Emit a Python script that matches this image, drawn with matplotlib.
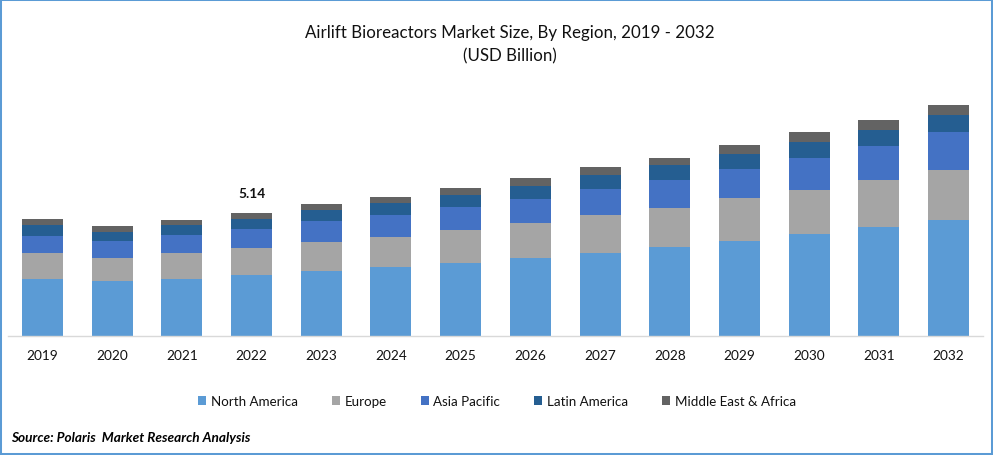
import matplotlib
matplotlib.use('Agg')
import matplotlib.pyplot as plt
from matplotlib.patches import Rectangle

plt.rcParams['font.family'] = ['Lato', 'DejaVu Sans']

#Dados
anos = ['2019', '2020', '2021', '2022', '2023', '2024', '2025', '2026', '2027', '2028', '2029', '2030', '2031', '2032']
north_america = [2.38, 2.27, 2.38, 2.55, 2.72, 2.88, 3.05, 3.26, 3.47, 3.72, 3.97, 4.26, 4.55, 4.85]
europe = [1.09, 0.99, 1.09, 1.13, 1.21, 1.25, 1.38, 1.46, 1.55, 1.63, 1.76, 1.84, 1.96, 2.09]
asia_pacific = [0.71, 0.71, 0.75, 0.79, 0.84, 0.92, 0.96, 1.00, 1.09, 1.17, 1.25, 1.34, 1.42, 1.55]
latin_america = [0.46, 0.38, 0.42, 0.41, 0.46, 0.50, 0.50, 0.54, 0.59, 0.59, 0.59, 0.63, 0.67, 0.71]
middle_east = [0.25, 0.25, 0.21, 0.26, 0.25, 0.25, 0.29, 0.33, 0.33, 0.33, 0.38, 0.42, 0.42, 0.42]

series = [
    ('North America', north_america, '#5B9BD5'),
    ('Europe', europe, '#A5A5A5'),
    ('Asia Pacific', asia_pacific, '#4472C4'),
    ('Latin America', latin_america, '#255E91'),
    ('Middle East & Africa', middle_east, '#636363'),
]

W, H = 993, 456
fig = plt.figure(figsize=(W / 100, H / 100), dpi=100, facecolor='white')

#Eixo posicionado em pixels (linha base em y=336)
ax = fig.add_axes([7.65 / W, (H - 336.6) / H, (983.35 - 7.65) / W, 300 / H])
x = list(range(len(anos)))
base = [0] * len(anos)
for nome, valores, cor in series:
    ax.bar(x, valores, width=0.588, bottom=base, color=cor, label=nome, linewidth=0)
    base = [b + v for b, v in zip(base, valores)]

ax.set_xlim(-0.5, 13.5)
ax.set_ylim(0, 300 / 23.93)
ax.set_yticks([])
ax.set_xticks(x)
ax.set_xticklabels(anos, fontsize=9.8, color='#111111')
ax.tick_params(axis='x', length=0, pad=9.5)
for lado in ['top', 'left', 'right']:
    ax.spines[lado].set_visible(False)
ax.spines['bottom'].set_color('#D9D9D9')
ax.spines['bottom'].set_linewidth(1.0)
ax.patch.set_alpha(0)

#Valor de 2022
ax.text(3, base[3] + 0.56, '5.14', ha='center', va='bottom', fontsize=9.8, fontweight='bold', color='#111111')

#Titulo
fig.text(510 / W, 1 - 33.2 / H, 'Airlift Bioreactors Market Size, By Region, 2019 - 2032', ha='center', va='center', fontsize=12.2, color='#111111')
fig.text(510 / W, 1 - 56.2 / H, '(USD Billion)', ha='center', va='center', fontsize=12.2, color='#111111')

#Legenda
leg = fig.legend(loc='center', bbox_to_anchor=(497 / W, 1 - 402 / H), ncol=5, frameon=False, fontsize=9.6,
                 handlelength=0.6, handleheight=0.6, handletextpad=0.35, columnspacing=2.55, labelcolor='#111111')

#Fonte
fig.text(11 / W, 1 - 438.2 / H, 'Source: Polaris  Market Research Analysis', ha='left', va='center', fontsize=9.8,
         fontweight='bold', fontstyle='italic', color='black')

#Moldura azul
fig.add_artist(Rectangle((0, 0), 1, 1, transform=fig.transFigure, fill=False, edgecolor='#5B9BD5', linewidth=2.9))

fig.savefig('out.png', dpi=100)
